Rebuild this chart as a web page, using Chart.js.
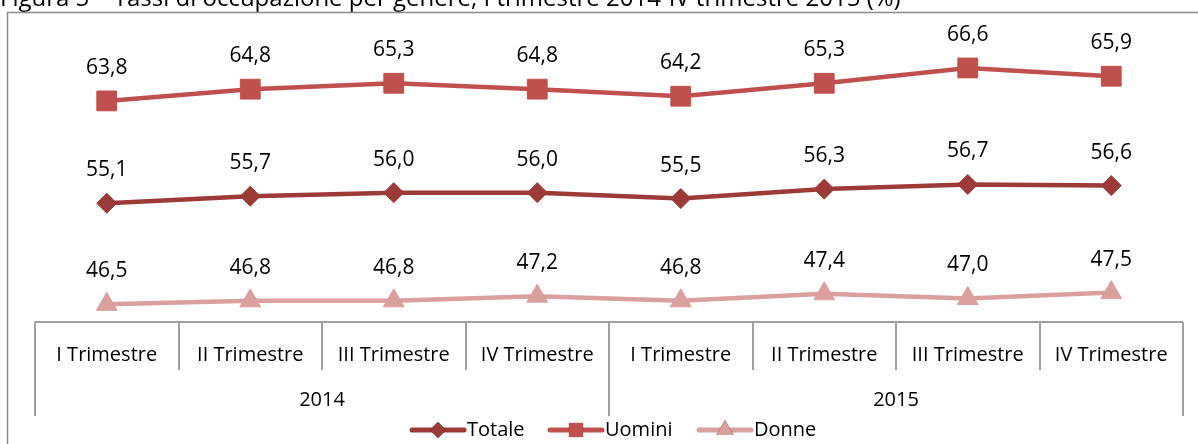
<!DOCTYPE html>
<html>
<head>
<meta charset="utf-8">
<script src="https://cdn.jsdelivr.net/npm/chart.js@4.4.1/dist/chart.umd.min.js"></script>
<style>
  html, body { margin: 0; padding: 0; background: #fff; }
  #wrap { width: 1198px; height: 444px; position: relative; }
</style>
</head>
<body>
<div id="wrap"><canvas id="chart" width="1198" height="444"></canvas></div>
<script>
const TITLE = "Figura 5 – Tassi di occupazione per genere, I trimestre 2014-IV trimestre 2015 (%)";
const quarters = ["I Trimestre", "II Trimestre", "III Trimestre", "IV Trimestre",
                  "I Trimestre", "II Trimestre", "III Trimestre", "IV Trimestre"];
const years = ["2014", "2015"];
const totale = [55.1, 55.7, 56.0, 56.0, 55.5, 56.3, 56.7, 56.6];
const uomini = [63.8, 64.8, 65.3, 64.8, 64.2, 65.3, 66.6, 65.9];
const donne = [46.5, 46.8, 46.8, 47.2, 46.8, 47.4, 47.0, 47.5];

const FONT = "'Open Sans', sans-serif";
const AXIS_GRAY = "#a0a0a0";

function fmt(v) {
  return v.toFixed(1).replace(".", ",");
}

// frame, title, grouped category axis, value labels and legend
const decorPlugin = {
  id: "decor",
  beforeDraw(chart) {
    const ctx = chart.ctx;
    ctx.save();
    ctx.fillStyle = "#000";
    ctx.font = "24px " + FONT;
    ctx.textAlign = "left";
    ctx.textBaseline = "alphabetic";
    ctx.fillText(TITLE, 0, 6);
    ctx.strokeStyle = "#8c8c8c";
    ctx.lineWidth = 1.5;
    ctx.strokeRect(7.5, 12.5, 1300, 500);
    ctx.restore();
  },
  afterDatasetsDraw(chart) {
    const ctx = chart.ctx;
    const x = chart.scales.x;
    const area = chart.chartArea;
    const n = quarters.length;
    const step = (area.right - area.left) / n;
    const axisY = area.bottom;

    ctx.save();
    // axis lines
    ctx.strokeStyle = AXIS_GRAY;
    ctx.lineWidth = 2;
    ctx.beginPath();
    ctx.moveTo(area.left, axisY);
    ctx.lineTo(area.right, axisY);
    for (let i = 0; i <= n; i++) {
      const edge = i === n ? area.right : (i === 0 ? area.left : Math.round(x.getPixelForValue(i) - step / 2));
      const long = i % 4 === 0;
      ctx.moveTo(edge, axisY);
      ctx.lineTo(edge, long ? axisY + 94 : axisY + 48);
    }
    ctx.stroke();

    // category and year labels
    ctx.fillStyle = "#000";
    ctx.font = "20px " + FONT;
    ctx.textAlign = "center";
    ctx.textBaseline = "middle";
    quarters.forEach((q, i) => {
      ctx.fillText(q, x.getPixelForValue(i), axisY + 33);
    });
    years.forEach((yr, g) => {
      const mid = (x.getPixelForValue(g * 4) + x.getPixelForValue(g * 4 + 3)) / 2;
      ctx.fillText(yr, mid, axisY + 78);
    });

    // value labels
    ctx.font = "21px " + FONT;
    chart.data.datasets.forEach((ds, di) => {
      const meta = chart.getDatasetMeta(di);
      meta.data.forEach((pt, i) => {
        ctx.fillText(fmt(ds.data[i]), pt.x, pt.y - 33);
      });
    });

    // legend
    const items = [
      { label: "Totale", color: "#9b3a37", style: "rectRot", r: 8, x0: 410 },
      { label: "Uomini", color: "#c0504d", style: "rect", r: 10, x0: 548 },
      { label: "Donne", color: "#d9a09e", style: "triangle", r: 10, x0: 697 }
    ];
    const ly = 430;
    ctx.textAlign = "left";
    ctx.font = "20px " + FONT;
    items.forEach((it) => {
      ctx.strokeStyle = it.color;
      ctx.lineWidth = 5;
      ctx.lineCap = "round";
      ctx.beginPath();
      ctx.moveTo(it.x0 + 2, ly);
      ctx.lineTo(it.x0 + 54, ly);
      ctx.stroke();
      Chart.helpers.drawPoint(ctx, { pointStyle: it.style, radius: it.r, rotation: 0, borderWidth: 0 }, it.x0 + 28, ly);
      ctx.fillStyle = it.color;
      ctx.fill();
      ctx.fillStyle = "#000";
      ctx.fillText(it.label, it.x0 + 57, ly);
    });
    ctx.restore();
  }
};

const seriesStyle = (color, style, radius) => ({
  borderColor: color,
  backgroundColor: color,
  pointBackgroundColor: color,
  pointBorderColor: color,
  borderWidth: 4.5,
  pointStyle: style,
  pointRadius: radius,
  pointBorderWidth: 1,
  tension: 0,
  fill: false
});

new Chart(document.getElementById("chart"), {
  type: "line",
  data: {
    labels: quarters,
    datasets: [
      Object.assign({ label: "Totale", data: totale }, seriesStyle("#9b3a37", "rectRot", 10)),
      Object.assign({ label: "Uomini", data: uomini }, seriesStyle("#c0504d", "rect", 14)),
      Object.assign({ label: "Donne", data: donne }, seriesStyle("#d9a09e", "triangle", 12))
    ]
  },
  options: {
    responsive: false,
    animation: false,
    layout: { padding: { left: 35, right: 14, top: 28, bottom: 122 } },
    plugins: { legend: { display: false }, tooltip: { enabled: false } },
    scales: {
      x: { display: false, offset: true },
      y: { display: false, min: 45, max: 70 }
    }
  },
  plugins: [decorPlugin]
});
</script>
</body>
</html>
